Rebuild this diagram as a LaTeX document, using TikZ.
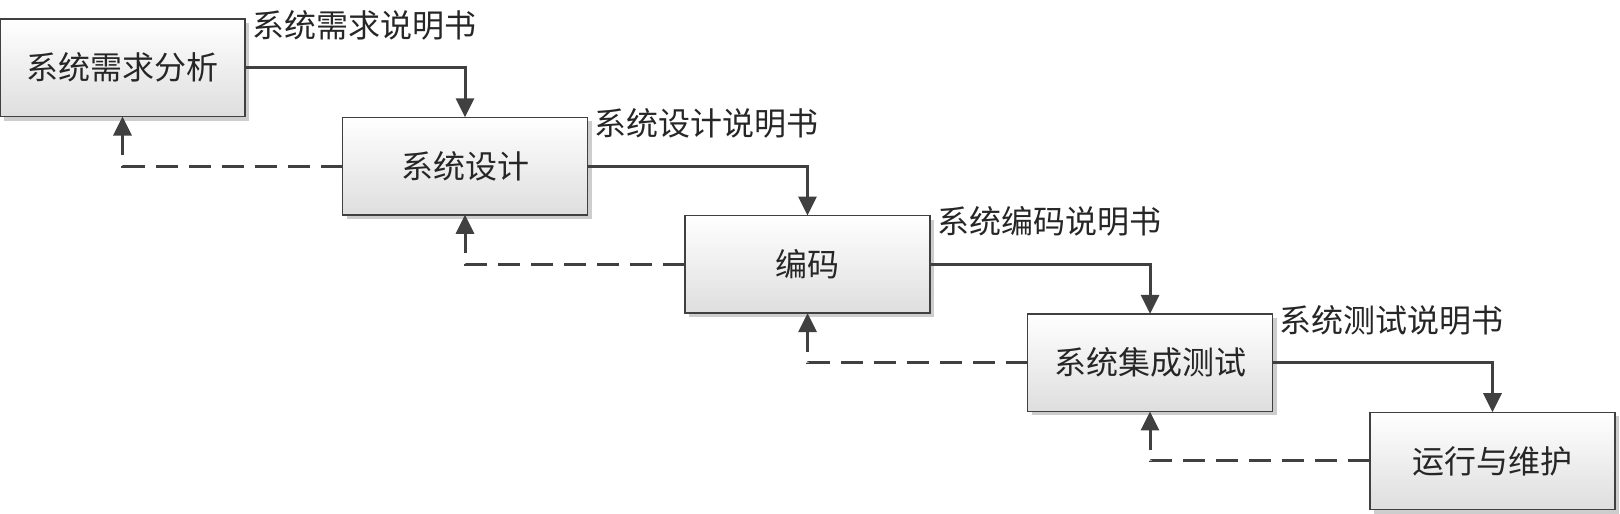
\documentclass[tikz,border=0pt]{standalone}
\usepackage{fontspec}
\newfontfamily\cjk{Noto Sans CJK SC}
\usetikzlibrary{arrows.meta,shadows}
\definecolor{ln}{RGB}{64,64,64}
\definecolor{shd}{RGB}{205,205,205}
\definecolor{btm}{RGB}{222,222,222}
\tikzset{
  stagebox/.style={rectangle, draw=ln, line width=1.4pt, anchor=north west,
    minimum width=245pt, minimum height=97.5pt, inner sep=0pt, outer sep=0pt,
    top color=white, bottom color=btm,
    drop shadow={shadow xshift=4pt, shadow yshift=-4pt, fill=shd, opacity=1},
    font=\cjk\fontsize{32}{36}\selectfont, text=black!85},
  doclabel/.style={anchor=west, inner sep=0pt, font=\cjk\fontsize{32}{36}\selectfont, text=black!85},
  flowline/.style={draw=ln, line width=3pt, -{Triangle[length=19pt,width=18pt]}},
  backline/.style={draw=ln, line width=3pt, dash pattern=on 22pt off 11pt, -{Triangle[length=19pt,width=18pt]}}
}
\begin{document}
\begin{tikzpicture}[x=1pt,y=-1pt]
\useasboundingbox (0,0) rectangle (1620,514);
\fill[white] (0,0) rectangle (1620,514);
\node[stagebox] (b1) at (0,19) {系统需求分析};
\node[stagebox] (b2) at (342.5,117.3) {系统设计};
\node[stagebox] (b3) at (685,215.6) {编码};
\node[stagebox] (b4) at (1027.5,313.9) {系统集成测试};
\node[stagebox] (b5) at (1370,412.2) {运行与维护};
\node[doclabel] (l1) at ([xshift=7pt,yshift=-6pt]b1.north east) {系统需求说明书};
\node[doclabel] (l2) at ([xshift=7pt,yshift=-6pt]b2.north east) {系统设计说明书};
\node[doclabel] (l3) at ([xshift=7pt,yshift=-6pt]b3.north east) {系统编码说明书};
\node[doclabel] (l4) at ([xshift=7pt,yshift=-6pt]b4.north east) {系统测试说明书};
\draw[flowline] (b1.east) -| (b2.north);
\draw[flowline] (b2.east) -| (b3.north);
\draw[flowline] (b3.east) -| (b4.north);
\draw[flowline] (b4.east) -| (b5.north);
\draw[backline] (b2.west) -| (b1.south);
\draw[backline] (b3.west) -| (b2.south);
\draw[backline] (b4.west) -| (b3.south);
\draw[backline] (b5.west) -| (b4.south);
\end{tikzpicture}
\end{document}
